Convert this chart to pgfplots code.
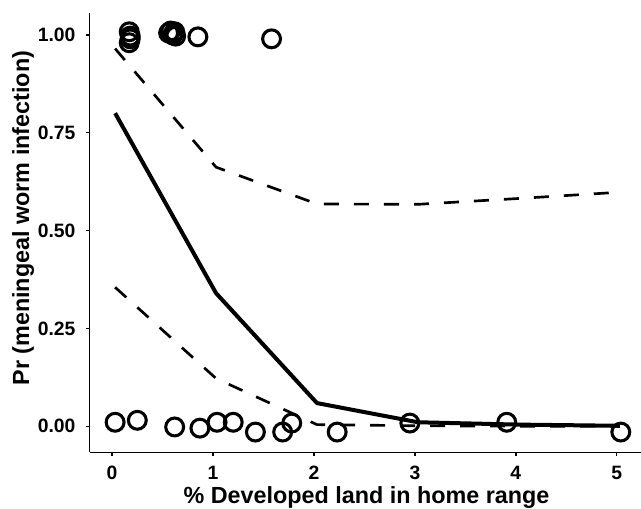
\documentclass[border=0pt]{standalone}
\usepackage{fontspec}
\setmainfont{Liberation Sans}
\usepackage{pgfplots}
\pgfplotsset{compat=1.18}
\begin{document}
\begin{tikzpicture}
\begin{axis}[
  name=ax,
  scale only axis,
  width=413.25pt, height=329.25pt,
  xmin=-0.221, xmax=5.24,
  ymin=-0.0665, ymax=1.056,
  axis x line*=bottom, axis y line*=left,
  axis line style={line width=1pt, black, -},
  xtick={0,1,2,3,4,5},
  ytick={0,0.25,0.5,0.75,1},
  yticklabels={0.00,0.25,0.50,0.75,1.00},
  tick align=outside,
  major tick length=3pt,
  tick style={line width=1pt, black},
  /pgf/number format/assume math mode=true,
  ticklabel style={font=\fontsize{14.5}{16}\selectfont\bfseries},
  xticklabel style={anchor=base, inner sep=0pt, yshift=-17.25pt},
  yticklabel style={anchor=east, inner sep=0pt, xshift=-7.5pt},
  xlabel={\% Developed land in home range},
  ylabel={Pr (meningeal worm infection)},
  label style={font=\fontsize{17.5}{19}\selectfont\bfseries},
  xlabel style={at={(axis description cs:0.502,0)}, anchor=base, yshift=-38.25pt},
  ylabel style={at={(axis description cs:-0.121,0.533)}, anchor=center, rotate=0},
  clip=false,
]
% points
\addplot[only marks, mark=o, mark size=6.7pt, mark options={line width=2.3pt, black}] coordinates {
(0.03,0.010) (0.25,0.015) (0.62,-0.002) (0.87,-0.005) (1.04,0.010) (1.20,0.010)
(1.42,-0.015) (1.69,-0.015) (1.78,0.008) (2.23,-0.015) (2.95,0.008) (3.91,0.010) (5.04,-0.015)
(0.17,1.008) (0.18,0.997) (0.18,0.990) (0.17,0.980)
(0.56,1.005) (0.60,1.000) (0.63,0.997) (0.58,1.010) (0.62,1.008)
(0.85,0.995) (1.58,0.990)
};
% fitted line
\addplot[black, line width=3pt] coordinates {
(0.03,0.80) (1.03,0.34) (2.03,0.059) (3.03,0.010) (4.03,0.004) (5.03,0.001)
};
% upper CI
\addplot[black, line width=2pt, dash pattern=on 11.25pt off 11.25pt] coordinates {
(0.03,0.965) (1.03,0.662) (2.03,0.568) (3.03,0.567) (4.03,0.582) (5.03,0.598)
};
% lower CI
\addplot[black, line width=2pt, dash pattern=on 11.25pt off 11.25pt] coordinates {
(0.03,0.355) (1.03,0.122) (2.03,0.004) (3.03,0.001) (4.03,0.000) (5.03,0.000)
};
\end{axis}
\pgfresetboundingbox
\path ([xshift=-67.3pt, yshift=-42pt]ax.south west) rectangle ([yshift=9.75pt]ax.north east);
\end{tikzpicture}
\end{document}
